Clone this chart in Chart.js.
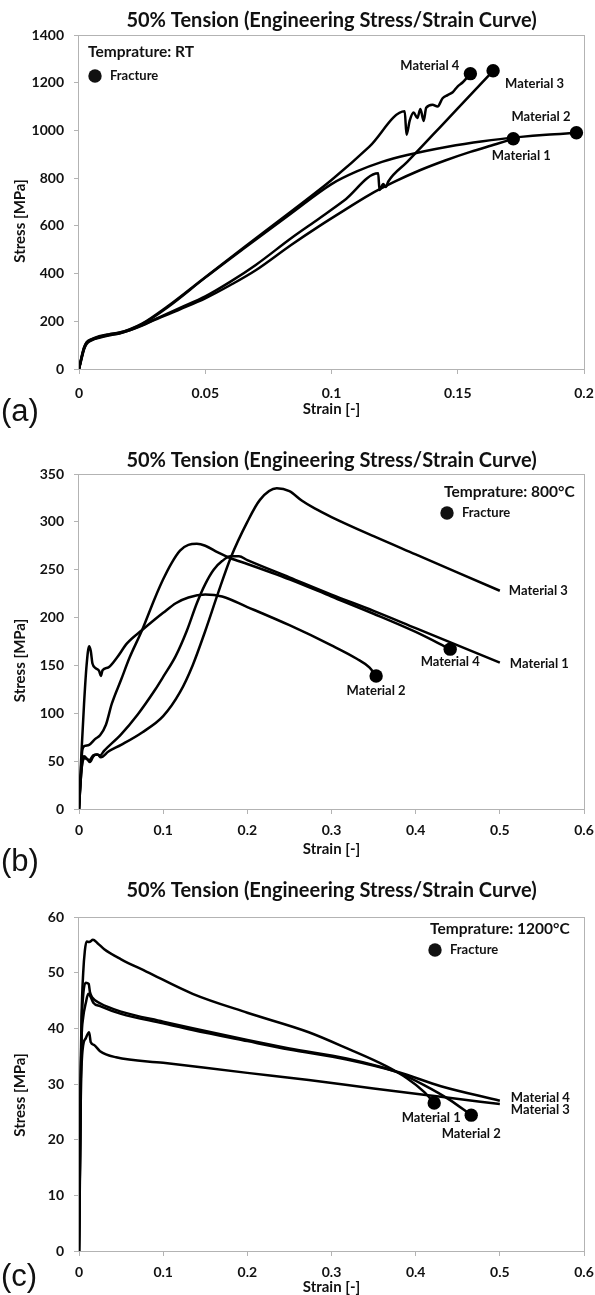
<!DOCTYPE html>
<html>
<head>
<meta charset="utf-8">
<script src="https://cdn.jsdelivr.net/npm/chart.js@4.4.1/dist/chart.umd.min.js"></script>
<style>
  body { margin: 0; background: #fff; width: 595px; height: 1295px; position: relative; overflow: hidden; }
  canvas { position: absolute; left: 0; }
  .tag { position: absolute; left: 1px; font: 31px "Liberation Sans", Arial, sans-serif; color: #111; line-height: 32px; }
</style>
</head>
<body>
<canvas id="chartA" width="595" height="432" style="top:0"></canvas>
<canvas id="chartB" width="595" height="440" style="top:432px"></canvas>
<canvas id="chartC" width="595" height="423" style="top:872px"></canvas>
<div class="tag" style="top:395px">(a)</div>
<div class="tag" style="top:845px">(b)</div>
<div class="tag" style="top:1260px">(c)</div>
<script>
// ---- data (strain [-], stress [MPa]) ----
const materials = ['Material 1', 'Material 2', 'Material 3', 'Material 4'];

// (a) room temperature
const rtMat1 = [[0,0],[0.001,45],[0.002,85],[0.003,108],[0.005,122],[0.008,133],[0.012,142],[0.016,150],[0.02,162],[0.025,182],[0.03,206],[0.04,250],[0.05,296],[0.06,352],[0.07,414],[0.084,520],[0.095,598],[0.105,665],[0.115,730],[0.125,785],[0.135,833],[0.145,874],[0.155,910],[0.165,942],[0.172,965]];
const rtMat2 = [[0,0],[0.001,48],[0.002,88],[0.003,110],[0.005,124],[0.008,135],[0.012,145],[0.016,152],[0.02,165],[0.025,188],[0.035,258],[0.05,383],[0.065,503],[0.084,652],[0.1,775],[0.11,828],[0.12,868],[0.13,897],[0.146,932],[0.16,955],[0.175,973],[0.185,982],[0.197,990]];
const rtMat3 = [[0,0],[0.001,42],[0.002,82],[0.003,105],[0.005,120],[0.008,131],[0.012,141],[0.016,149],[0.02,162],[0.025,184],[0.03,208],[0.04,256],[0.05,304],[0.06,366],[0.07,436],[0.084,548],[0.095,630],[0.105,706],[0.1185,820],[0.119,750],[0.1205,775],[0.1215,763],[0.1225,786],[0.13,868],[0.14,980],[0.15,1092],[0.164,1250]];
const rtMat4 = [[0,0],[0.001,50],[0.002,90],[0.003,112],[0.005,125],[0.008,137],[0.012,146],[0.016,153],[0.02,166],[0.025,190],[0.035,262],[0.05,385],[0.065,507],[0.084,660],[0.1,792],[0.115,932],[0.129,1080],[0.1297,982],[0.131,1042],[0.1325,1075],[0.134,1052],[0.1352,1090],[0.1365,1040],[0.1375,1095],[0.14,1108],[0.142,1100],[0.144,1135],[0.146,1148],[0.148,1160],[0.15,1185],[0.152,1202],[0.155,1238]];

// (b) 800 C
const hMat1 = [[0,0],[0.002,30],[0.004,50],[0.006,55],[0.01,52],[0.013,49],[0.017,55],[0.021,57],[0.025,56],[0.03,61],[0.05,78],[0.07,99],[0.09,124],[0.1,138],[0.115,160],[0.128,186],[0.14,215],[0.15,235],[0.16,250],[0.17,259],[0.18,264],[0.19,264],[0.2,260],[0.25,242],[0.3,224],[0.35,207],[0.4,189],[0.45,171],[0.5,153]];
const hMat2 = [[0,0],[0.003,60],[0.006,110],[0.009,150],[0.012,170],[0.014,165],[0.016,152],[0.02,147],[0.024,144],[0.026,139],[0.028,145],[0.035,148],[0.045,158],[0.057,173],[0.075,187],[0.09,198],[0.1,205],[0.115,215],[0.13,221],[0.15,224],[0.17,222],[0.2,211],[0.25,192],[0.3,171],[0.33,157],[0.345,148],[0.353,139]];
const hMat3 = [[0,0],[0.002,30],[0.004,48],[0.007,53],[0.012,51],[0.017,56],[0.022,57],[0.026,54],[0.035,60],[0.05,67],[0.075,80],[0.1,97],[0.12,122],[0.135,150],[0.15,186],[0.165,225],[0.18,262],[0.2,300],[0.215,323],[0.235,335],[0.25,332],[0.265,322],[0.28,314],[0.3,305],[0.35,285],[0.4,266],[0.45,247],[0.5,228]];
const hMat4 = [[0,0],[0.002,35],[0.004,62],[0.007,66],[0.012,67],[0.019,73],[0.025,77],[0.032,88],[0.039,110],[0.05,135],[0.06,158],[0.075,187],[0.09,220],[0.1,240],[0.11,257],[0.12,270],[0.13,276],[0.14,277],[0.15,275],[0.165,268],[0.18,262],[0.2,256],[0.25,240],[0.3,222],[0.35,204],[0.4,185],[0.441,167]];

// (c) 1200 C
const vMat1 = [[0,0],[0.001,15],[0.002,32],[0.003,42],[0.005,50],[0.007,54],[0.009,55.6],[0.012,55.5],[0.0166,55.9],[0.022,55.3],[0.03,54.2],[0.05,52.4],[0.08,50.2],[0.135,46.2],[0.2,42.8],[0.273,39.3],[0.32,36.3],[0.365,33.2],[0.39,31],[0.41,28.6],[0.422,26.6]];
const vMat2 = [[0,0],[0.001,14],[0.002,30],[0.003,40],[0.005,46],[0.008,48.2],[0.0115,48],[0.013,46.5],[0.016,45.5],[0.025,44.5],[0.05,43],[0.1,41.2],[0.135,40],[0.2,37.9],[0.25,36.4],[0.318,34.6],[0.36,33],[0.38,32],[0.41,29.8],[0.44,27.2],[0.466,24.4]];
const vMat3 = [[0,0],[0.001,12],[0.002,26],[0.003,33],[0.005,37],[0.008,38.2],[0.012,39.3],[0.014,37.5],[0.018,37],[0.025,35.9],[0.044,34.8],[0.1,33.8],[0.2,32],[0.273,30.7],[0.35,29.2],[0.43,27.7],[0.5,26.4]];
const vMat4 = [[0,0],[0.001,14],[0.002,30],[0.003,38],[0.005,42],[0.008,44.5],[0.011,46.2],[0.014,45.6],[0.017,44.6],[0.025,44],[0.05,42.6],[0.1,40.9],[0.135,39.7],[0.2,37.7],[0.25,36.2],[0.318,34.4],[0.38,32.1],[0.43,29.6],[0.5,27]];

// which curves end in fracture
const rtFractured = [true, true, true, true];
const hFractured = [false, true, false, true];
const vFractured = [true, true, false, false];

// tick labels
const rtStrainTicks = [0, 0.05, 0.1, 0.15, 0.2];
const rtStressTicks = [0, 200, 400, 600, 800, 1000, 1200, 1400];
const hStrainTicks = [0, 0.1, 0.2, 0.3, 0.4, 0.5, 0.6];
const hStressTicks = [0, 50, 100, 150, 200, 250, 300, 350];
const vStrainTicks = hStrainTicks;
const vStressTicks = [0, 10, 20, 30, 40, 50, 60];

const titleText = '50% Tension (Engineering Stress/Strain Curve)';

Chart.defaults.font.family = 'Lato, "Open Sans", sans-serif';
Chart.defaults.font.weight = 'bold';
Chart.defaults.color = '#111';

// frame, notes, end labels, fracture legend, y title
const notes = {
  id: 'notes',
  beforeDatasetsDraw(chart) {
    const { ctx, chartArea: a } = chart;
    ctx.save();
    ctx.strokeStyle = '#b3b3b3';
    ctx.lineWidth = 1;
    ctx.strokeRect(a.left - 0.5, a.top + 0.5, a.right - a.left + 1, a.bottom - a.top);
    ctx.restore();
  },
  afterDatasetsDraw(chart, args, o) {
    const { ctx, chartArea: a, scales: { x, y } } = chart;
    ctx.save();
    ctx.fillStyle = '#111';
    ctx.textBaseline = 'middle';
    ctx.font = 'bold 15.5px Lato';
    ctx.textAlign = 'left';
    ctx.fillText(o.temp, o.tempAt[0], o.tempAt[1]);
    ctx.beginPath();
    ctx.arc(o.legendAt[0], o.legendAt[1], 6.7, 0, Math.PI * 2);
    ctx.fill();
    ctx.font = 'bold 13px Lato';
    ctx.fillText('Fracture', o.legendAt[0] + 15, o.legendAt[1]);
    // material names at curve ends
    o.ends.forEach((e, i) => {
      const pts = chart.data.datasets[i].data;
      const p = pts[pts.length - 1];
      ctx.textAlign = e[2];
      ctx.fillText(materials[i], x.getPixelForValue(p.x) + e[0], y.getPixelForValue(p.y) + e[1]);
    });
    // y axis title
    ctx.translate(20, (a.top + a.bottom) / 2 + o.yTitleShift);
    ctx.rotate(-Math.PI / 2);
    ctx.textAlign = 'center';
    ctx.font = 'bold 15px Lato';
    ctx.fillText('Stress [MPa]', 0, 0);
    ctx.restore();
  }
};

function makeChart(id, curves, fractured, xTicks, yTicks, lay) {
  const toXY = arr => arr.map(([x, y]) => ({ x, y }));
  const datasets = curves.map((c, i) => ({
    label: materials[i],
    data: toXY(c),
    showLine: true,
    borderColor: '#000',
    borderWidth: 2.5,
    pointRadius: 0,
    cubicInterpolationMode: 'monotone'
  }));
  datasets.push({
    label: 'Fracture',
    data: toXY(curves.filter((c, i) => fractured[i]).map(c => c[c.length - 1])),
    showLine: false,
    pointRadius: 6.7,
    pointBackgroundColor: '#000',
    pointBorderWidth: 0
  });
  const xh = lay.xTitleY - lay.bottom + 9;   // 15px title, line height 18
  return new Chart(document.getElementById(id), {
    type: 'scatter',
    data: { datasets },
    options: {
      responsive: false,
      animation: false,
      devicePixelRatio: 1,
      layout: { padding: { left: 0, right: 595 - lay.right, top: 0, bottom: lay.h - lay.bottom - xh } },
      plugins: {
        legend: { display: false },
        tooltip: { enabled: false },
        title: {
          display: true, text: titleText, fullSize: false, color: '#111',
          font: { size: 20, weight: 'bold', lineHeight: 1.2 },
          padding: { top: lay.titleY - 12, bottom: lay.top - lay.titleY - 12 }
        },
        notes: { temp: lay.temp, tempAt: lay.tempAt, legendAt: lay.legendAt, ends: lay.ends, yTitleShift: lay.yShift }
      },
      scales: {
        x: {
          type: 'linear', min: xTicks[0], max: xTicks[xTicks.length - 1],
          afterBuildTicks: s => { s.ticks = xTicks.map(v => ({ value: v })); },
          afterFit: s => { s.height = xh; s.paddingLeft = 0; s.paddingRight = 0; },
          grid: { drawOnChartArea: false, drawTicks: true, tickLength: 5, color: '#b3b3b3' },
          border: { display: false },
          ticks: { padding: lay.xPad, font: { size: 14, weight: 'bold' }, maxRotation: 0, callback: v => String(v) },
          title: { display: true, text: 'Strain [-]', padding: 0, font: { size: 15, weight: 'bold', lineHeight: 1.2 } }
        },
        y: {
          type: 'linear', min: yTicks[0], max: yTicks[yTicks.length - 1],
          afterBuildTicks: s => { s.ticks = yTicks.map(v => ({ value: v })); },
          afterFit: s => { s.width = 79; s.paddingTop = 0; s.paddingBottom = 0; },
          grid: { drawOnChartArea: false, drawTicks: true, tickLength: 5, color: '#b3b3b3' },
          border: { display: false },
          ticks: { padding: 10, font: { size: 14, weight: 'bold' }, callback: v => String(v) }
        }
      }
    },
    plugins: [notes]
  });
}

makeChart('chartA', [rtMat1, rtMat2, rtMat3, rtMat4], rtFractured, rtStrainTicks, rtStressTicks, {
  h: 432, top: 35, bottom: 369, right: 584, titleY: 21, xTitleY: 409, xPad: 11, yShift: 19,
  temp: 'Temprature: RT', tempAt: [88, 52], legendAt: [95, 76],
  ends: [[8, 17, 'center'], [-6, -16, 'right'], [12, 13, 'left'], [-11, -8, 'right']]
});
makeChart('chartB', [hMat1, hMat2, hMat3, hMat4], hFractured, hStrainTicks, hStressTicks, {
  h: 440, top: 42, bottom: 377, right: 584, titleY: 29, xTitleY: 417, xPad: 8, yShift: 19,
  temp: 'Temprature: 800°C', tempAt: [444, 60], legendAt: [447, 81],
  ends: [[10, 1, 'left'], [0, 15, 'center'], [9, 0, 'left'], [0, 13, 'center']]
});
makeChart('chartC', [vMat1, vMat2, vMat3, vMat4], vFractured, vStrainTicks, vStressTicks, {
  h: 423, top: 45, bottom: 379, right: 584, titleY: 19, xTitleY: 415, xPad: 8, yShift: 11,
  temp: 'Temprature: 1200°C', tempAt: [430, 57], legendAt: [435, 78],
  ends: [[-3, 15, 'center'], [0, 19, 'center'], [11, 6, 'left'], [11, -3, 'left']]
});
</script>
</body>
</html>
